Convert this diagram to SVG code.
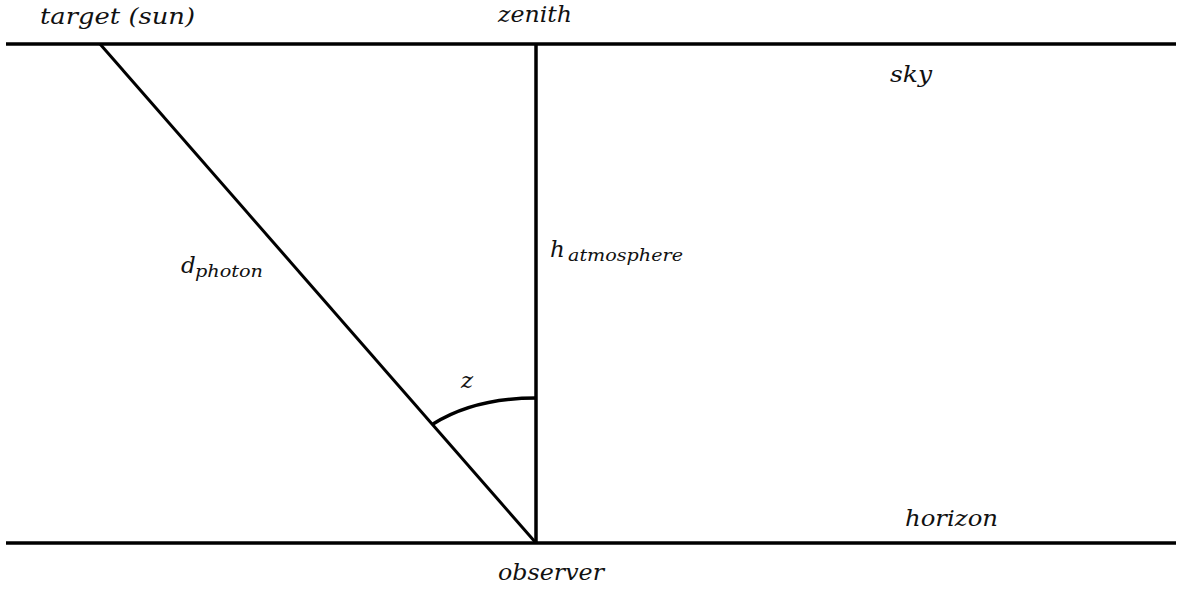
<svg xmlns="http://www.w3.org/2000/svg" width="1182" height="592" viewBox="0 0 1182 592">
<style>
.ln{stroke:#000;stroke-width:3.5;fill:none;stroke-linecap:butt}
.lbl{font-family:"DejaVu Serif","Liberation Serif",serif;font-style:italic;font-size:23px;fill:#111}
.sub{font-family:"DejaVu Serif","Liberation Serif",serif;font-style:italic;font-size:16px;fill:#111}
</style>
<rect width="1182" height="592" fill="#fff"/>
<g id="connectors">
<line id="sky-line" class="ln" x1="6" y1="44" x2="1176" y2="44"/>
<line id="horizon-line" class="ln" x1="6" y1="543" x2="1176" y2="543"/>
<line id="zenith-line" class="ln" x1="536" y1="44" x2="536" y2="543"/>
<line id="photon-line" class="ln" style="stroke-width:3" x1="100" y1="44" x2="536" y2="543"/>
<path id="angle-arc" class="ln" d="M433,424 C460,407 495,398 536,398"/>
</g>
<g id="target"><text class="lbl" x="40" y="24" textLength="155" lengthAdjust="spacingAndGlyphs">target (sun)</text></g>
<g id="zenith"><text class="lbl" x="498" y="22" textLength="74" lengthAdjust="spacingAndGlyphs">zenith</text></g>
<g id="sky"><text class="lbl" x="890" y="82" textLength="42" lengthAdjust="spacingAndGlyphs">sky</text></g>
<g id="d-photon"><text class="lbl" x="181" y="273">d</text><text class="sub" x="195" y="277" textLength="68" lengthAdjust="spacingAndGlyphs">photon</text></g>
<g id="h-atmosphere"><text class="lbl" x="550" y="257">h</text><text class="sub" x="568" y="261" textLength="115" lengthAdjust="spacingAndGlyphs">atmosphere</text></g>
<g id="z"><text class="lbl" x="461" y="388">z</text></g>
<g id="horizon"><text class="lbl" x="905" y="526" textLength="93" lengthAdjust="spacingAndGlyphs">horizon</text></g>
<g id="observer"><text class="lbl" x="498" y="580" textLength="106" lengthAdjust="spacingAndGlyphs">observer</text></g>
</svg>
